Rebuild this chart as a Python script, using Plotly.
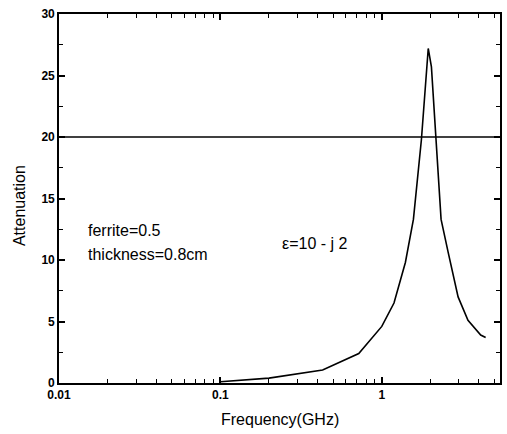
import plotly.graph_objects as go
import math

# Data
freq_ghz = [0.1, 0.2, 0.43, 0.72, 1.0, 1.19, 1.4, 1.57, 1.76, 1.94, 2.03, 2.17, 2.33, 2.58, 2.97, 3.42, 4.1, 4.4]
attenuation = [0.1, 0.4, 1.05, 2.4, 4.6, 6.5, 9.8, 13.3, 19.8, 27.2, 25.7, 20.0, 13.3, 10.6, 7.0, 5.1, 3.9, 3.7]

ref_freq = [0.01, 5.4]
ref_level = [20, 20]

x_tick_vals = [0.01, 0.1, 1]
x_tick_text = ["0.01", "0.1", "1"]
y_tick_vals = [0, 5, 10, 15, 20, 25, 30]

x_minor = [m * d for d in (0.01, 0.1, 1) for m in range(2, 10) if m * d <= 5.4]
y_minor = [2.5, 7.5, 12.5, 17.5, 22.5, 27.5]

FONT = "Liberation Sans, Arial, Helvetica, sans-serif"
X_RANGE = [-2, math.log10(5.4)]
Y_RANGE = [0, 30]

fig = go.Figure()
fig.add_trace(go.Scatter(x=ref_freq, y=ref_level, mode="lines", xaxis="x2", yaxis="y2",
                         line=dict(color="black", width=1.6), hoverinfo="skip"))
fig.add_trace(go.Scatter(x=freq_ghz, y=attenuation, mode="lines",
                         line=dict(color="black", width=1.6)))

tick_font = dict(family=FONT, size=12, color="black", weight="bold")

fig.update_layout(
    xaxis=dict(type="log", range=X_RANGE, tickmode="array", tickvals=x_tick_vals,
               ticktext=x_tick_text, showgrid=False, zeroline=False, showline=True,
               linecolor="black", linewidth=1.6, mirror="ticks", ticks="inside",
               ticklen=6, tickwidth=1.5, tickcolor="black", tickfont=tick_font),
    yaxis=dict(range=Y_RANGE, tickmode="array", tickvals=y_tick_vals, showgrid=False,
               zeroline=False, showline=True, linecolor="black", linewidth=1.6,
               mirror="ticks", ticks="inside", ticklen=6, tickwidth=1.5,
               tickcolor="black", tickfont=tick_font),
    xaxis2=dict(type="log", range=X_RANGE, overlaying="x", anchor="y2", side="bottom",
                tickmode="array", tickvals=x_minor, showticklabels=False, showgrid=False,
                zeroline=False, showline=False, mirror="ticks", ticks="inside",
                ticklen=4, tickwidth=1.3, tickcolor="black"),
    yaxis2=dict(range=Y_RANGE, overlaying="y", anchor="x2", side="left",
                tickmode="array", tickvals=y_minor, showticklabels=False, showgrid=False,
                zeroline=False, showline=False, mirror="ticks", ticks="inside",
                ticklen=4, tickwidth=1.3, tickcolor="black"),
)

txt = dict(family=FONT, size=16, color="black")

fig.add_annotation(text="ferrite=0.5", xref="x", yref="y", x=math.log10(0.0148), y=(383 - 230) / 12.3,
                   xanchor="left", yanchor="middle", showarrow=False, font=txt)
fig.add_annotation(text="thickness=0.8cm", xref="x", yref="y", x=math.log10(0.0148), y=(383 - 254) / 12.3,
                   xanchor="left", yanchor="middle", showarrow=False, font=txt)
fig.add_annotation(text="ε=10 - j 2", xref="x", yref="y", x=math.log10(0.235), y=(383 - 243) / 12.3,
                   xanchor="left", yanchor="middle", showarrow=False, font=txt)

fig.add_annotation(text="Frequency(GHz)", xref="paper", yref="paper", x=0.5, y=-0.1,
                   xanchor="center", yanchor="middle", showarrow=False,
                   font=dict(family=FONT, size=16, color="black"))
fig.add_annotation(text="Attenuation", xref="paper", yref="paper", x=-0.088, y=0.48,
                   xanchor="center", yanchor="middle", showarrow=False, textangle=-90,
                   font=dict(family=FONT, size=16, color="black"))

fig.update_layout(width=507, height=434, margin=dict(l=59, r=5, t=14, b=51),
                  plot_bgcolor="white", paper_bgcolor="white", showlegend=False)

fig.write_html("out.html", config={"displayModeBar": False},
               post_script="document.body.style.margin='0';document.body.style.overflow='hidden';")
